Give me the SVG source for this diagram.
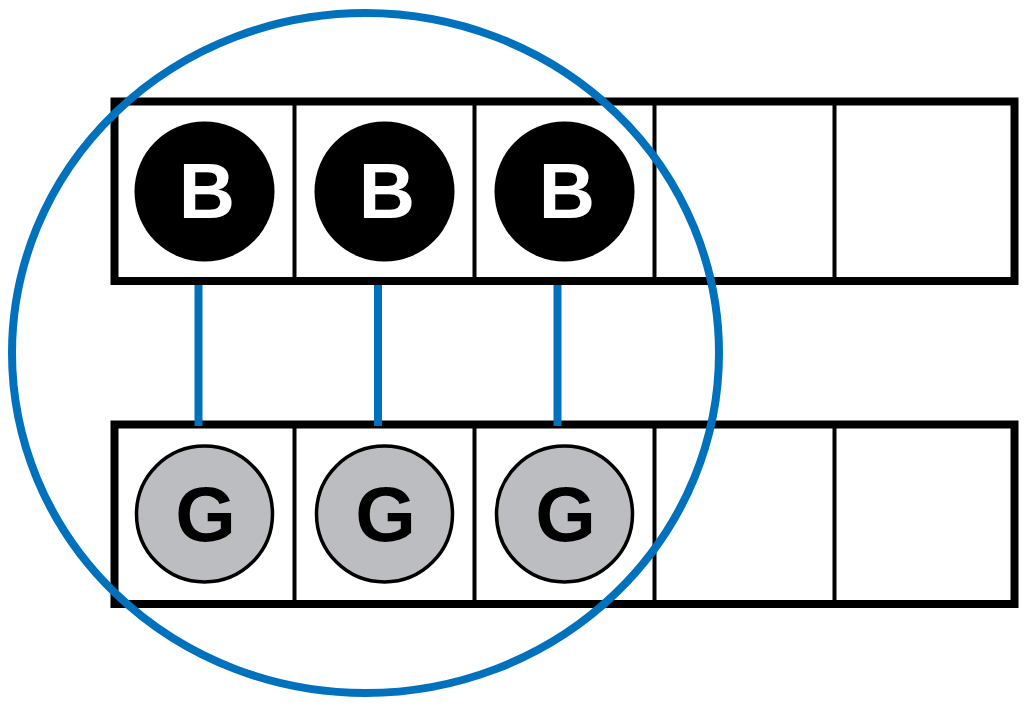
<svg xmlns="http://www.w3.org/2000/svg" width="1028" height="707" viewBox="0 0 1028 707">
<style>
.row{fill:#fff;stroke:#000;stroke-width:8}
.div{stroke:#000;stroke-width:4}
.b{fill:#000}
.g{fill:#bcbdc0;stroke:#000;stroke-width:3.5}
.lbl{font-family:"Liberation Sans",Arial,sans-serif;font-weight:bold;font-size:78px;text-anchor:middle}
.conn{stroke:#0071bc;stroke-width:8;fill:none}
</style>
<rect width="1028" height="707" fill="#fff"/>
<g id="top-row">
<rect class="row" x="114.5" y="101.5" width="900" height="179.5"/>
<line class="div" x1="294.5" y1="101.5" x2="294.5" y2="281"/>
<line class="div" x1="474.5" y1="101.5" x2="474.5" y2="281"/>
<line class="div" x1="654.5" y1="101.5" x2="654.5" y2="281"/>
<line class="div" x1="834.5" y1="101.5" x2="834.5" y2="281"/>
</g>
<g id="bottom-row">
<rect class="row" x="114.5" y="424.5" width="900" height="179.5"/>
<line class="div" x1="294.5" y1="424.5" x2="294.5" y2="604"/>
<line class="div" x1="474.5" y1="424.5" x2="474.5" y2="604"/>
<line class="div" x1="654.5" y1="424.5" x2="654.5" y2="604"/>
<line class="div" x1="834.5" y1="424.5" x2="834.5" y2="604"/>
</g>
<g id="connectors">
<line class="conn" x1="198.5" y1="285" x2="198.5" y2="426"/>
<line class="conn" x1="378" y1="285" x2="378" y2="426"/>
<line class="conn" x1="557.5" y1="285" x2="557.5" y2="426"/>
</g>
<g id="B1"><circle class="b" cx="204.5" cy="191.5" r="70"/><text class="lbl" x="207" y="218" fill="#fff">B</text></g>
<g id="B2"><circle class="b" cx="384.5" cy="191.5" r="70"/><text class="lbl" x="387" y="218" fill="#fff">B</text></g>
<g id="B3"><circle class="b" cx="564.5" cy="191.5" r="70"/><text class="lbl" x="567" y="218" fill="#fff">B</text></g>
<g id="G1"><circle class="g" cx="204.5" cy="514" r="68"/><text class="lbl" x="205.5" y="541" fill="#000">G</text></g>
<g id="G2"><circle class="g" cx="384.5" cy="514" r="68"/><text class="lbl" x="385.5" y="541" fill="#000">G</text></g>
<g id="G3"><circle class="g" cx="564.5" cy="514" r="68"/><text class="lbl" x="565.5" y="541" fill="#000">G</text></g>
<g id="group-ellipse">
<ellipse class="conn" cx="365.5" cy="353" rx="353.5" ry="340"/>
</g>
</svg>
